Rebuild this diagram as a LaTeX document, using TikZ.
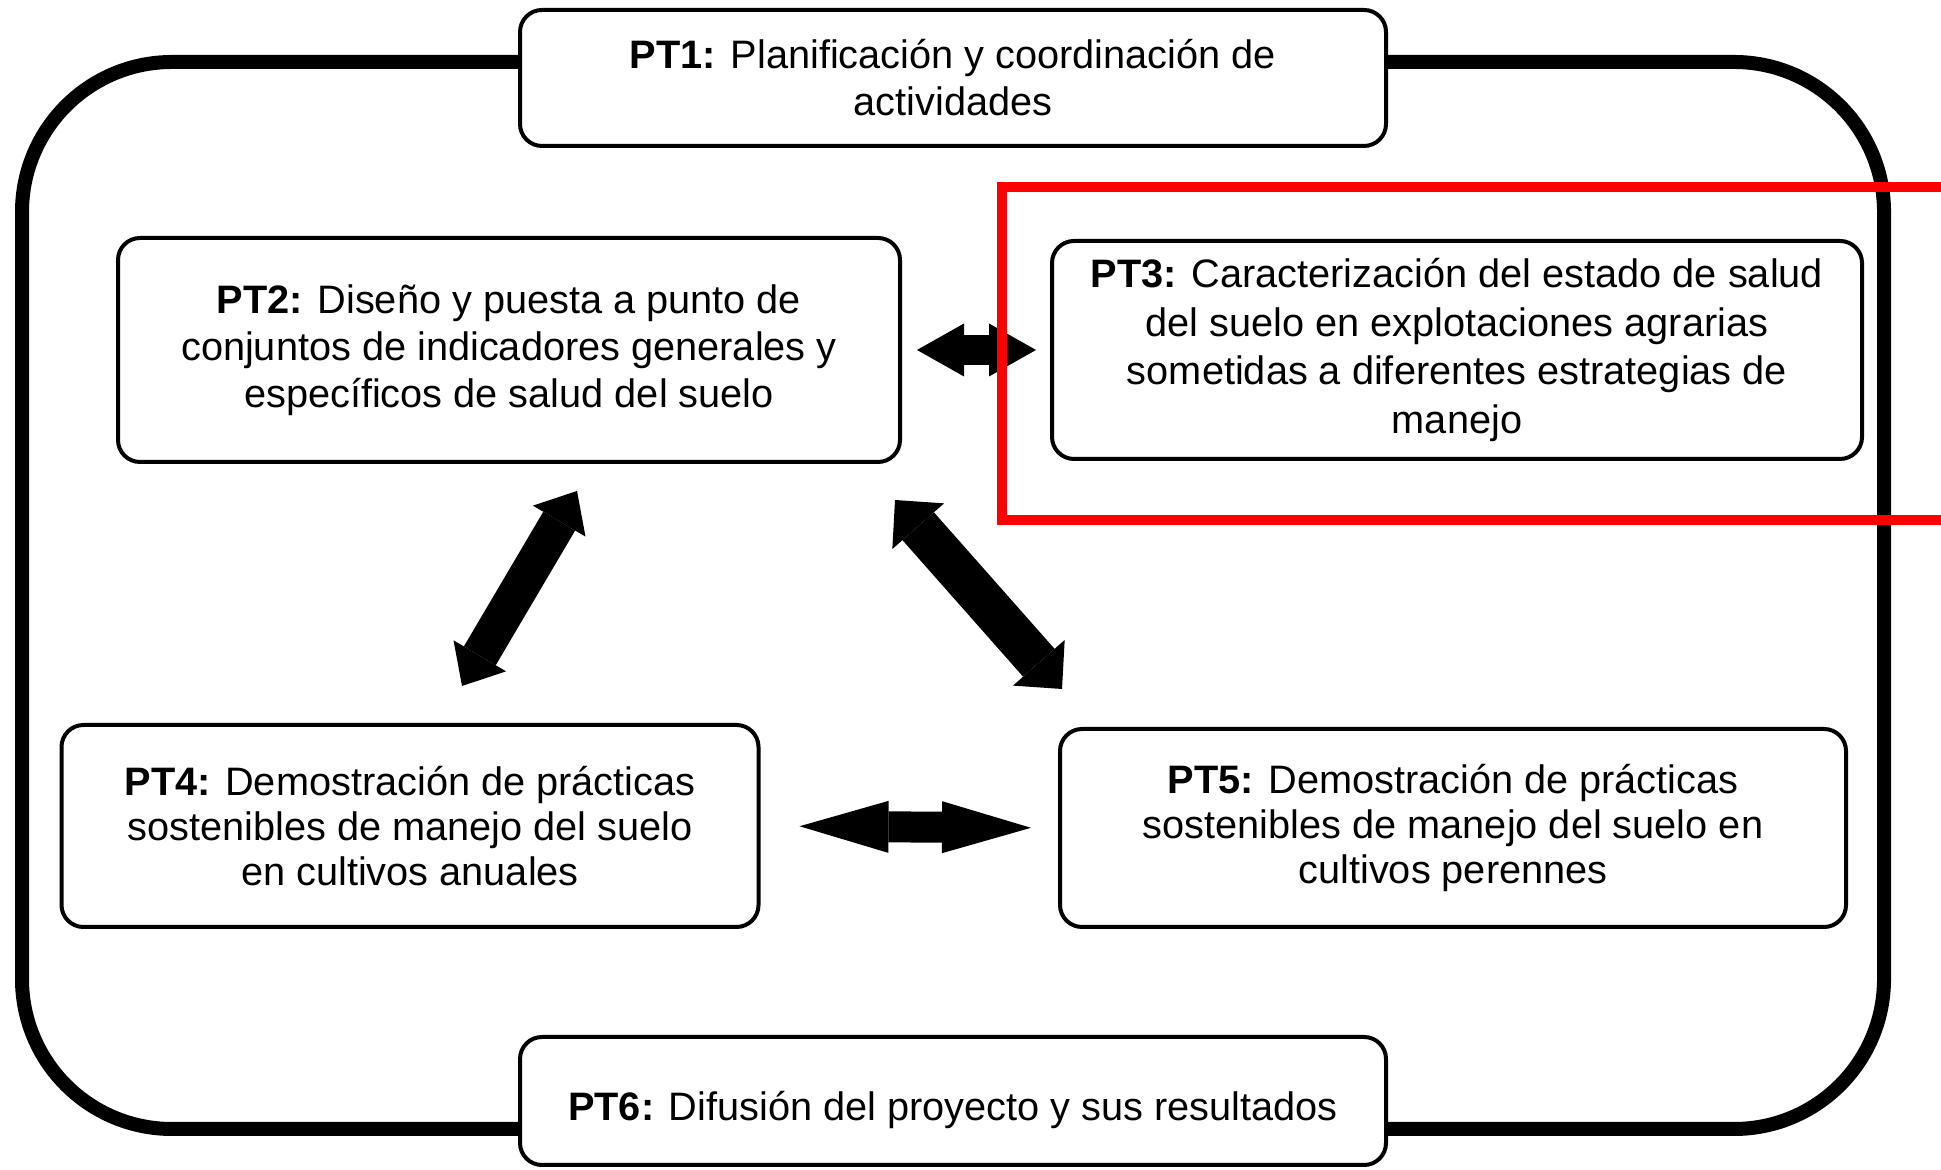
\documentclass[tikz,border=0pt]{standalone}
\usepackage{fontspec}
\setmainfont{Liberation Sans}
\usetikzlibrary{arrows.meta}

\begin{document}
\begin{tikzpicture}
\tikzset{box/.style = {draw, fill=white, rounded corners=0.22cm, line width=0.04cm, align=center, inner sep=0pt, font=\fontsize{11.3}{13.4}\selectfont}}
\tikzset{dbl/.style n args = {3}{line width=#1, >={Triangle[length=#2, width=#3, line width=0pt]}, <->}}

\useasboundingbox (0,0) rectangle (19.41,11.70);

% frame
\draw[line width=0.14cm, rounded corners=1.5cm] (0.22,0.41) rectangle (18.84,11.08);

\node[box, minimum width=8.66cm, minimum height=1.36cm] (PT1) at (9.53,10.92) {\textbf{PT1:} Planificación y coordinación de\\actividades};
\node[box, minimum width=7.82cm, minimum height=2.24cm] (PT2) at (5.09,8.20) {\textbf{PT2:} Diseño y puesta a punto de\\conjuntos de indicadores generales y\\específicos de salud del suelo};
\node[box, minimum width=8.10cm, minimum height=2.18cm, font=\fontsize{11.3}{13.8}\selectfont] (PT3) at (14.57,8.20) {\textbf{PT3:} Caracterización del estado de salud\\del suelo en explotaciones agrarias\\sometidas a diferentes estrategias de\\manejo};
\node[box, minimum width=6.97cm, minimum height=2.02cm, font=\fontsize{11.3}{12.9}\selectfont] (PT4) at (4.10,3.44) {\textbf{PT4:} Demostración de prácticas\\sostenibles de manejo del suelo\\en cultivos anuales};
\node[box, minimum width=7.86cm, minimum height=1.98cm, font=\fontsize{11.3}{12.9}\selectfont] (PT5) at (14.53,3.42) {\textbf{PT5:} Demostración de prácticas\\sostenibles de manejo del suelo en\\cultivos perennes};
\node[box, minimum width=8.66cm, minimum height=1.28cm, text height=0.46cm, text depth=0.06cm] (PT6) at (9.53,0.69) {\textbf{PT6:} Difusión del proyecto y sus resultados};

%arrows
\draw[dbl={0.30cm}{0.47cm}{0.53cm}, shorten <=0.15cm, shorten >=0.14cm] (PT2.east) -- (PT3.west);
\draw[dbl={0.31cm}{0.89cm}{0.52cm}, shorten <=0.39cm, shorten >=0.27cm] (PT4.east) -- (PT5.west);
\draw[dbl={0.37cm}{0.35cm}{0.61cm}] ([shift={(0.52,0.37)}]PT4.north) -- ([shift={(0.68,-0.27)}]PT2.south);
\draw[dbl={0.42cm}{0.35cm}{0.69cm}] ([shift={(-0.07,-0.36)}]PT2.south east) -- ([shift={(0.04,0.38)}]PT5.north west);

% highlight
\draw[red, line width=0.10cm] (19.41,9.83) -- (10.02,9.83) -- (10.02,6.50) -- (19.41,6.50);

\end{tikzpicture}
\end{document}
